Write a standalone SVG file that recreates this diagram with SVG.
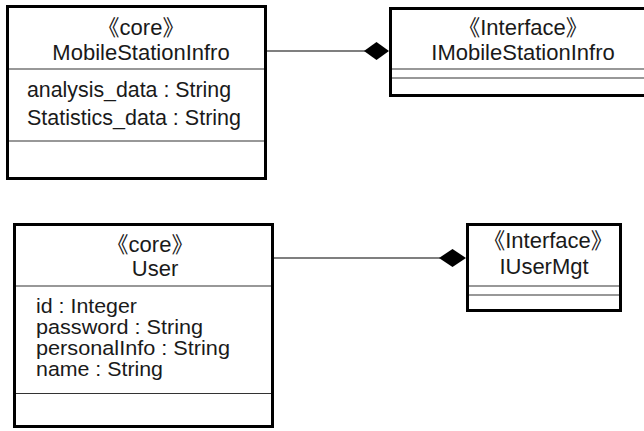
<svg xmlns="http://www.w3.org/2000/svg" width="644" height="431" viewBox="0 0 644 431">
  <style>
    .box { fill: #ffffff; stroke: #000000; stroke-width: 3; }
    .sep { stroke: #333333; stroke-width: 1.2; fill: none; }
    .t { font-family: "Liberation Sans", Arial, "Noto Sans CJK JP", sans-serif; font-size: 22px; fill: #1a1a1a; }
    .attr { font-size: 20.5px; }
    .c { text-anchor: middle; }
    .link { stroke: #000000; stroke-width: 1.2; fill: none; }
    .diamond { fill: #000000; stroke: none; }
  </style>
  <rect width="644" height="431" fill="#ffffff"/>

  <g id="connectors">
    <line class="link" x1="267" y1="51" x2="365" y2="51"/>
    <polygon class="diamond" points="364,51 376.5,42 389,51 376.5,60"/>
    <line class="link" x1="274" y1="258" x2="440" y2="258"/>
    <polygon class="diamond" points="439,258 452.5,249 466,258 452.5,267"/>
  </g>

  <g id="MobileStationInfro">
    <rect class="box" x="7.5" y="6.5" width="258" height="172"/>
    <line class="sep" x1="9" y1="69" x2="264" y2="69"/>
    <line class="sep" x1="9" y1="141" x2="264" y2="141"/>
    <text class="t c" x="141" y="35">《core》</text>
    <text class="t c" x="141" y="59.5">MobileStationInfro</text>
    <text class="t" x="27" y="97" textLength="204" lengthAdjust="spacingAndGlyphs">analysis_data : String</text>
    <text class="t" x="27" y="125" textLength="214" lengthAdjust="spacingAndGlyphs">Statistics_data : String</text>
  </g>

  <g id="IMobileStationInfro">
    <rect class="box" x="390.5" y="8.5" width="280" height="87"/>
    <line class="sep" x1="392" y1="69" x2="644" y2="69"/>
    <line class="sep" x1="392" y1="78" x2="644" y2="78"/>
    <text class="t c" x="523" y="35">《Interface》</text>
    <text class="t c" x="523" y="59.5">IMobileStationInfro</text>
  </g>

  <g id="User">
    <rect class="box" x="14.5" y="224.5" width="258" height="202"/>
    <line class="sep" x1="16" y1="286" x2="271" y2="286"/>
    <line class="sep" x1="16" y1="393.5" x2="271" y2="393.5"/>
    <text class="t c" x="150" y="252">《core》</text>
    <text class="t c" x="155" y="276">User</text>
    <text class="t attr" x="36" y="313" textLength="101" lengthAdjust="spacingAndGlyphs">id : Integer</text>
    <text class="t attr" x="36" y="334" textLength="167" lengthAdjust="spacingAndGlyphs">password : String</text>
    <text class="t attr" x="36" y="355" textLength="194" lengthAdjust="spacingAndGlyphs">personalInfo : String</text>
    <text class="t attr" x="36" y="376" textLength="127" lengthAdjust="spacingAndGlyphs">name : String</text>
  </g>

  <g id="IUserMgt">
    <rect class="box" x="467.5" y="224.5" width="153" height="86"/>
    <line class="sep" x1="469" y1="286" x2="619" y2="286"/>
    <line class="sep" x1="469" y1="295" x2="619" y2="295"/>
    <text class="t c" x="548" y="248">《Interface》</text>
    <text class="t c" x="544" y="274">IUserMgt</text>
  </g>
</svg>
